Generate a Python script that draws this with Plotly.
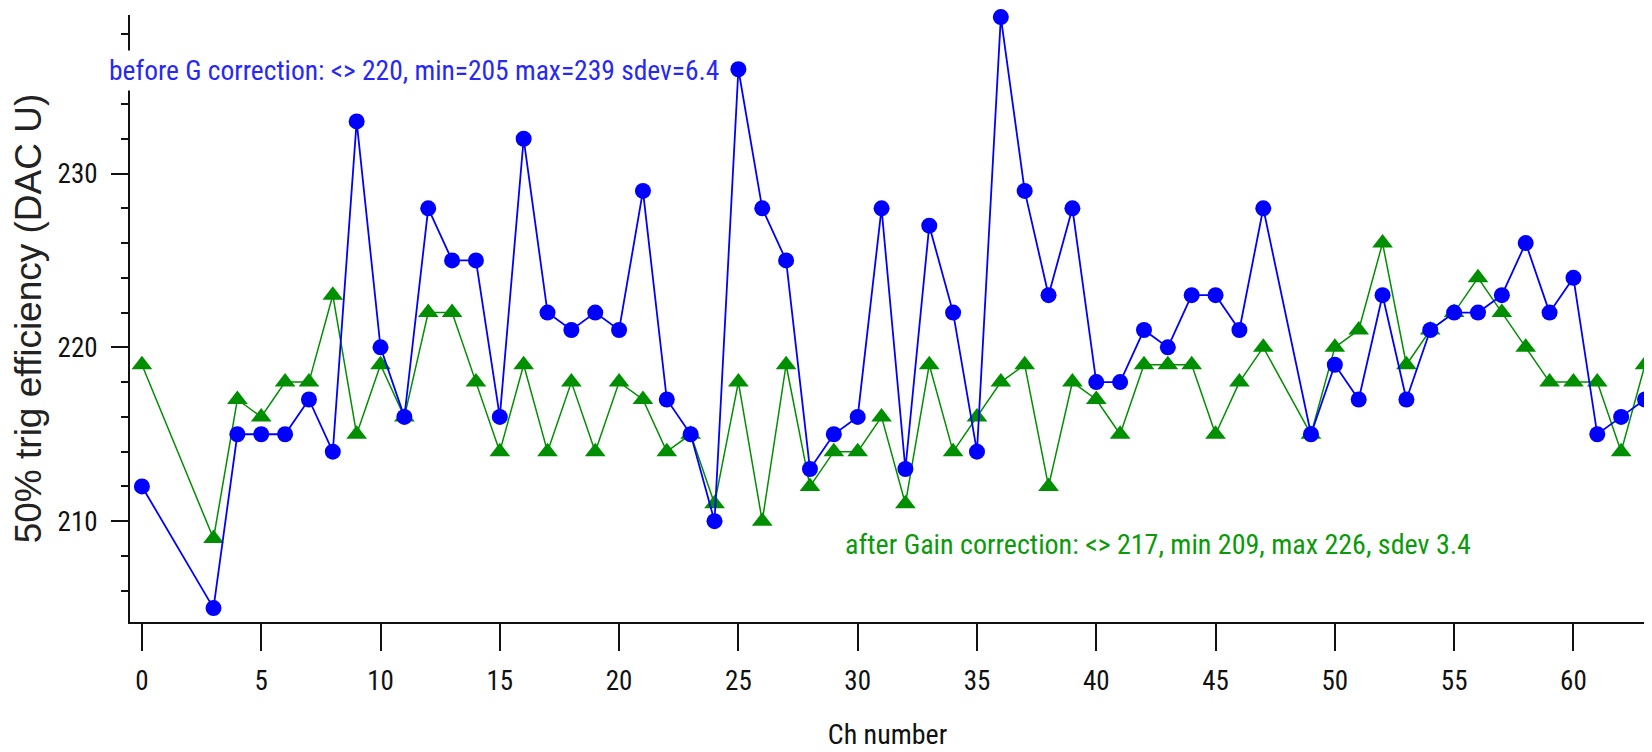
import plotly.graph_objects as go

# ---- data ----
channels = [0, 3, 4, 5, 6, 7, 8, 9, 10, 11, 12, 13, 14, 15, 16, 17, 18, 19, 20,
            21, 22, 23, 24, 25, 26, 27, 28, 29, 30, 31, 32, 33, 34, 35, 36, 37,
            38, 39, 40, 41, 42, 43, 44, 45, 46, 47, 49, 50, 51, 52, 53, 54, 55,
            56, 57, 58, 59, 60, 61, 62, 63]

before_gain = [212, 205, 215, 215, 215, 217, 214, 233, 220, 216, 228, 225, 225,
               216, 232, 222, 221, 222, 221, 229, 217, 215, 210, 236, 228, 225,
               213, 215, 216, 228, 213, 227, 222, 214, 239, 229, 223, 228, 218,
               218, 221, 220, 223, 223, 221, 228, 215, 219, 217, 223, 217, 221,
               222, 222, 223, 226, 222, 224, 215, 216, 217]

after_gain = [219, 209, 217, 216, 218, 218, 223, 215, 219, 216, 222, 222, 218,
              214, 219, 214, 218, 214, 218, 217, 214, 215, 211, 218, 210, 219,
              212, 214, 214, 216, 211, 219, 214, 216, 218, 219, 212, 218, 217,
              215, 219, 219, 219, 215, 218, 220, 215, 220, 221, 226, 219, 221,
              222, 224, 222, 220, 218, 218, 218, 214, 219]

x_ticks = [0, 5, 10, 15, 20, 25, 30, 35, 40, 45, 50, 55, 60]
y_ticks = [210, 220, 230]

label_before = "before G correction: <> 220, min=205 max=239 sdev=6.4"
label_after = "after Gain correction: <> 217, min 209, max 226, sdev 3.4"

NARROW = "Roboto Condensed, DejaVu Sans Condensed, sans-serif"
BLUE = "#0000FF"
GREEN = "#008F00"
INK = "#111111"

fig = go.Figure()

fig.add_trace(go.Scatter(
    x=channels, y=after_gain, mode="lines+markers", name="after",
    line=dict(color=GREEN, width=1.5),
    marker=dict(symbol="triangle-up", size=18, color=GREEN),
    cliponaxis=False,
))
fig.add_trace(go.Scatter(
    x=channels, y=before_gain, mode="lines+markers", name="before",
    line=dict(color=BLUE, width=1.8),
    marker=dict(symbol="circle", size=16, color=BLUE),
    cliponaxis=False,
))

# page body has an 8px default margin: size/margins compensate so the
# plot area lands at x 130..1645, y 15..617 of the 1652x752 window
fig.update_layout(
    width=1644, height=744,
    margin=dict(l=122, r=7, t=7, b=127),
    plot_bgcolor="white", paper_bgcolor="white",
    showlegend=False,
    font=dict(family=NARROW, color=INK),
    xaxis=dict(
        range=[-0.5, 63], tickvals=x_ticks, ticks="outside", ticklen=27,
        tickwidth=2, tickcolor=INK, showline=True, linewidth=2,
        linecolor=INK, showgrid=False, zeroline=False,
        ticklabelstandoff=7,
        tickfont=dict(family=NARROW, size=27, color=INK),
        title=dict(text="Ch number", font=dict(family=NARROW, size=28, color=INK),
                   standoff=28),
    ),
    yaxis=dict(
        range=[204.2, 239.12], tickvals=y_ticks, ticks="outside", ticklen=17,
        tickwidth=2, tickcolor=INK, showline=True, linewidth=2,
        linecolor=INK, showgrid=False, zeroline=False,
        ticklabelstandoff=8,
        tickfont=dict(family=NARROW, size=27, color=INK),
        minor=dict(dtick=2, ticks="outside", ticklen=7, tickwidth=2, tickcolor=INK,
                   showgrid=False),
        title=dict(text="50% trig efficiency (DAC U)",
                   font=dict(family="Liberation Sans, Arial, sans-serif", size=37, color="#222222"),
                   standoff=8),
    ),
)

fig.add_annotation(
    xref="paper", yref="paper", x=(105 - 130) / 1515, y=(617 - 70) / 602,
    xanchor="left", yanchor="middle", showarrow=False, text=label_before,
    font=dict(family=NARROW, size=27.5, color="#2828F5"),
    bgcolor="white", borderpad=3,
)
fig.add_annotation(
    xref="paper", yref="paper", x=(841 - 130) / 1515, y=(617 - 540) / 602,
    xanchor="left", yanchor="middle", showarrow=False, text=label_after,
    font=dict(family=NARROW, size=28, color="#0A9A0A"),
    bgcolor="white", borderpad=3,
)

fig.write_html("out.html")
